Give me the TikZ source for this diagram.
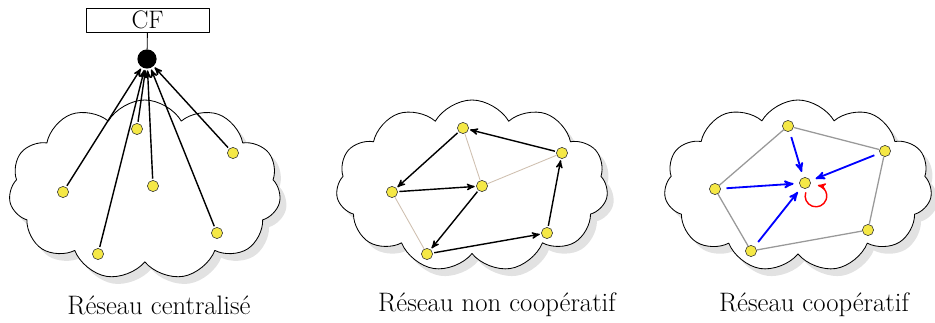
\documentclass[tikz,border=0pt]{standalone}
\usetikzlibrary{shapes.symbols,shadows,arrows}
\definecolor{jaune}{RGB}{245,232,70}
\tikzset{
  pt/.style={circle,draw=black!80,fill=jaune,minimum size=2.8mm,inner sep=0pt},
  nuage/.style={cloud,draw,semithick,fill=white,cloud puffs=11,cloud puff arc=120,inner sep=0pt,
    drop shadow={shadow xshift=1.6mm,shadow yshift=-1.8mm,fill=gray!45}},
  arr/.style={->,line width=1pt,shorten >=1pt,shorten <=1pt},
  barr/.style={->,line width=1.3pt,blue,shorten >=4pt,shorten <=4pt},
  lien/.style={gray!50!brown!50,line width=.6pt},
  lien2/.style={gray!80,line width=.9pt},
}
\begin{document}
\begin{tikzpicture}[font=\fontsize{19}{22}\selectfont, line join=round, >=stealth']
  \useasboundingbox (0,0) rectangle (23.375,8.05);
  % nuages
  \node[nuage,minimum width=6.8cm,minimum height=4.5cm] (n1) at (3.62,3.3) {};
  \node[nuage,minimum width=6.8cm,minimum height=4.3cm] (n2) at (11.8,3.4) {};
  \node[nuage,minimum width=6.7cm,minimum height=4.3cm] (n3) at (19.95,3.4) {};
  % reseau centralise
  \node[draw,minimum width=3.075cm,minimum height=0.6cm,inner sep=0pt,font=\fontsize{18}{20}\selectfont] (cf) at (3.69,7.55) {CF};
  \node[circle,fill,minimum size=0.48cm,inner sep=0pt] (fc) at (3.675,6.575) {};
  \draw[semithick] (cf) -- (fc);
  \node[pt] (a1) at (1.575,3.25) {};
  \node[pt] (a2) at (2.45,1.7) {};
  \node[pt] (a3) at (3.425,4.825) {};
  \node[pt] (a4) at (3.825,3.4) {};
  \node[pt] (a5) at (5.825,4.225) {};
  \node[pt] (a6) at (5.425,2.225) {};
  \foreach \n in {a1,a2,a3,a4,a5,a6}\draw[arr] (\n) -- (fc);
  % reseau non cooperatif
  \node[pt] (b1) at (11.575,4.85) {};
  \node[pt] (b2) at (14.05,4.225) {};
  \node[pt] (b3) at (9.8,3.25) {};
  \node[pt] (b4) at (12.05,3.4) {};
  \node[pt] (b5) at (10.675,1.7) {};
  \node[pt] (b6) at (13.675,2.225) {};
  \draw[lien] (b1) -- (b4) -- (b2);
  \draw[lien] (b3) -- (b5);
  \foreach \u/\v in {b2/b1,b1/b3,b3/b4,b4/b5,b5/b6,b6/b2}\draw[arr] (\u) -- (\v);
  % reseau cooperatif
  \node[pt] (c1) at (19.7,4.9) {};
  \node[pt] (c2) at (22.125,4.275) {};
  \node[pt] (c3) at (17.875,3.325) {};
  \node[pt] (c4) at (20.125,3.475) {};
  \node[pt] (c5) at (18.775,1.775) {};
  \node[pt] (c6) at (21.7,2.3) {};
  \draw[lien2] (c1) -- (c2) -- (c6) -- (c5) -- (c3) -- (c1);
  \foreach \n in {c1,c2,c3,c5}\draw[barr] (\n) -- (c4);
  \draw[->,red,line width=1pt] (c4) ++(0.02,-0.233) arc[start angle=160,end angle=440,radius=0.27];
  % legendes
  \node (l1) at (3.975,0.425) {Réseau centralisé};
  \node (l2) at (12.425,0.425) {Réseau non coopératif};
  \node (l3) at (20.35,0.425) {Réseau coopératif};
\end{tikzpicture}
\end{document}
